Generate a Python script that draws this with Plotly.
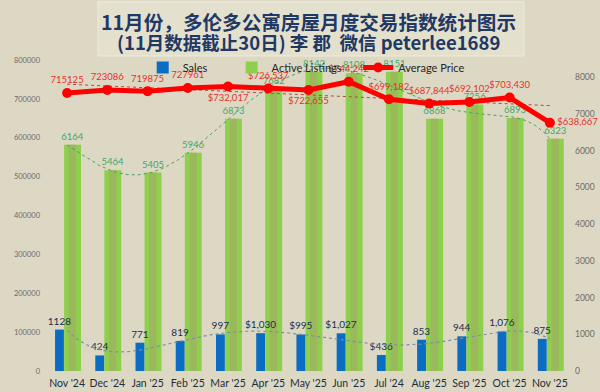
import numpy as np
import plotly.graph_objects as go

months = ["Nov '24", "Dec '24", "Jan '25", "Feb '25", "Mar '25", "Apr '25", "May '25",
          "Jun '25", "Jul '24", "Aug '25", "Sep '25", "Oct '25", "Nov '25"]
sales = [1128, 424, 771, 819, 997, 1030, 995, 1027, 436, 853, 944, 1076, 875]
sales_labels = ["1128", "424", "771", "819", "997", "$1,030", "$995", "$1,027", "$436",
                "853", "944", "1,076", "875"]
listings = [6164, 5464, 5405, 5946, 6873, 7682, 8142, 8108, 8151, 6868, 7256, 6893, 6323]
avg_price = [715125, 723086, 719875, 727961, 732017, 726537, 722655, 744242, 699182,
             687844, 692102, 703430, 638667]
price_labels = ["715125", "723086", "719875", "727961", "$732,017", "$726,537", "$722,655",
                "$744,242", "$699,182", "$687,844", "$692,102", "$703,430", "$638,667"]

x = np.arange(len(months))
xf = np.linspace(0, len(months) - 1, 200)

# trendlines (Excel-style regression trendlines computed from the data)
tr_list = np.polyval(np.polyfit(x, listings, 6), xf)
tr_sales = np.polyval(np.polyfit(x, sales, 6), xf)
tr_price = np.polyval(np.polyfit(x, avg_price, 1), xf)

BG = "#DDD8C3"
LBL = "Lato"

fig = go.Figure()

# green listings bars (outer + inner darker stripe)
fig.add_trace(go.Bar(x=x, y=listings, name="Active Listings", width=0.42, offset=-0.075,
                     marker=dict(color="#8FCF4E", line=dict(width=0)),
                     text=[str(v) for v in listings], textposition="outside",
                     textfont=dict(color="#3DAA66", size=9.5, family=LBL),
                     constraintext="none", cliponaxis=False, yaxis="y", legend="legend2"))
fig.add_trace(go.Bar(x=x, y=listings, name="stripe", width=0.18, offset=0.04,
                     marker=dict(color="#9CB85C", line=dict(width=0)),
                     showlegend=False, hoverinfo="skip", yaxis="y"))
# sales bars
fig.add_trace(go.Bar(x=x, y=sales, name="Sales", width=0.22, offset=-0.30,
                     marker=dict(color="#0A6CC2", line=dict(width=0)),
                     text=sales_labels, textposition="outside",
                     textfont=dict(color="#1F2D4D", size=10, family=LBL),
                     constraintext="none", cliponaxis=False, yaxis="y", legend="legend"))

# trendlines on bar axis
fig.add_trace(go.Scatter(x=xf, y=tr_list, mode="lines", showlegend=False, hoverinfo="skip",
                         line=dict(color="#4C9F63", width=1, dash="dot"), yaxis="y"))
fig.add_trace(go.Scatter(x=xf, y=tr_sales, mode="lines", showlegend=False, hoverinfo="skip",
                         line=dict(color="#7890AE", width=1.2, dash="dot"), yaxis="y"))
# price trend + price line on left axis
fig.add_trace(go.Scatter(x=xf, y=tr_price, mode="lines", showlegend=False, hoverinfo="skip",
                         line=dict(color="#B8473C", width=1, dash="dot"), yaxis="y2"))
price_pos = ["top center"] * 4 + ["bottom center", "top center", "bottom center"] + \
            ["top center"] * 5 + ["middle right"]
fig.add_trace(go.Scatter(x=x, y=avg_price, name="Average Price", mode="lines+markers+text",
                         line=dict(color="#FF0000", width=5),
                         marker=dict(color="#FF0000", size=10),
                         text=price_labels, textposition=price_pos,
                         textfont=dict(color="#E2322C", size=9.5, family=LBL),
                         cliponaxis=False, yaxis="y2", legend="legend3"))

# title box
fig.add_shape(type="rect", xref="paper", yref="paper", x0=0.0975, x1=0.912, y0=1.013, y1=1.187,
              fillcolor="#E4E0CE", line=dict(color="#EEEBDD", width=1), layer="below")
fig.add_annotation(text="<b>11月份，多伦多公寓房屋月度交易指数统计图示</b>", xref="paper", yref="paper",
                   x=0.5, y=1.125, showarrow=False, xanchor="center", yanchor="middle",
                   font=dict(family="Noto Sans CJK SC", size=19.6, color="#1F3864"))
fig.add_annotation(text="<b>(11月数据截止30日) 李 郡  微信 peterlee1689</b>", xref="paper", yref="paper",
                   x=0.5, y=1.057, showarrow=False, xanchor="center", yanchor="middle",
                   font=dict(family="Noto Sans CJK SC", size=18.5, color="#1F3864"))

leg_common = dict(orientation="h", yanchor="middle", y=0.976, bgcolor="rgba(0,0,0,0)",
                  font=dict(family=LBL, size=11, color="#262626"), xanchor="left")

fig.update_layout(
    width=600, height=392,
    margin=dict(l=47, r=30, t=60, b=21),
    paper_bgcolor=BG, plot_bgcolor=BG,
    barmode="overlay",
    showlegend=True,
    legend=dict(x=0.183, **leg_common),
    legend2=dict(x=0.353, **leg_common),
    legend3=dict(x=0.595, **leg_common),
    xaxis=dict(range=[-0.5, 12.5], tickvals=list(x), ticktext=months, showgrid=False,
               zeroline=False, ticks="", showline=False, automargin=False,
               ticklabelstandoff=4,
               tickfont=dict(family=LBL, size=10.5, color="#1F2D3D")),
    yaxis=dict(side="right", range=[0, 8470], dtick=1000, tickformat="d", showgrid=False,
               zeroline=False, ticks="", automargin=False, ticklabelstandoff=4,
               tickfont=dict(family=LBL, size=8.5, color="#6B6B6B")),
    yaxis2=dict(side="left", overlaying="y", range=[0, 800000], dtick=100000, tickformat="d",
                showgrid=False, zeroline=False, ticks="", automargin=False, ticklabelstandoff=6,
                tickfont=dict(family=LBL, size=7.5, color="#6B6B6B")),
)

fig.write_html("out.html", config={"displayModeBar": False},
               post_script="document.body.style.margin='0';document.body.style.background='%s';" % BG)
